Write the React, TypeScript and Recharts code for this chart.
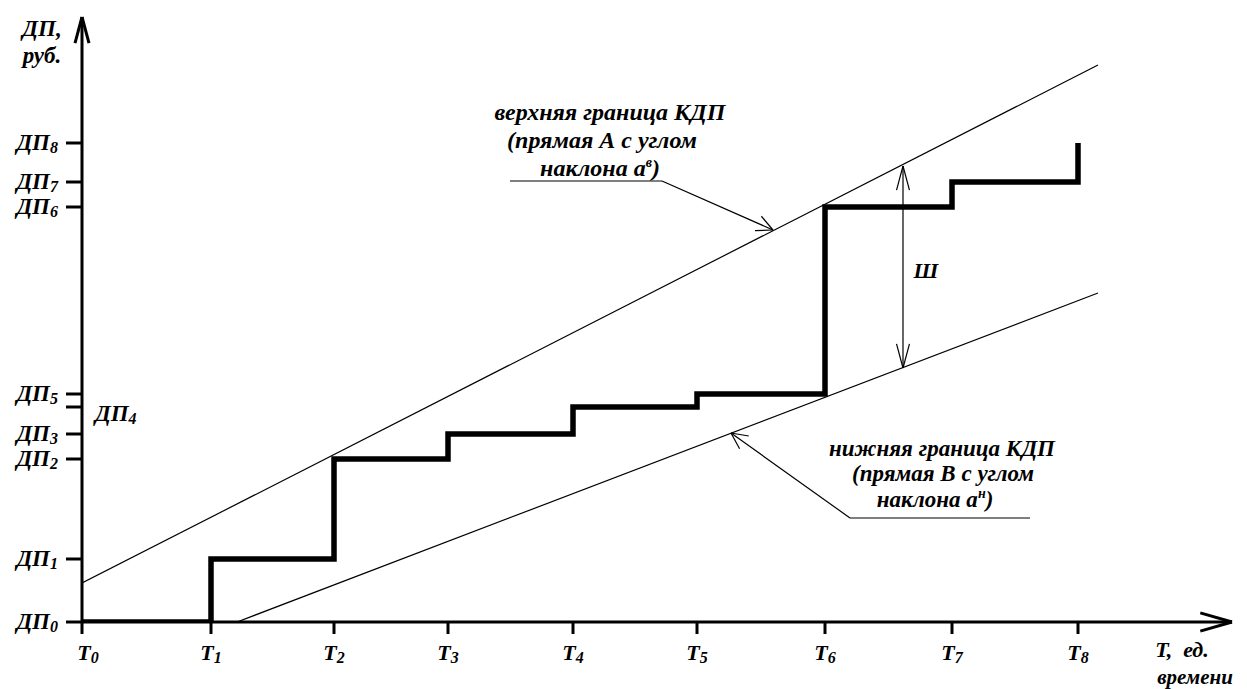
import React from 'react';
import { ComposedChart, Line, XAxis, YAxis, ReferenceLine, ReferenceDot } from 'recharts';

// ---- data (units: time units on X, roubles on Y) ----
const timeSubs = ['0', '1', '2', '3', '4', '5', '6', '7', '8'];
const timeValues = [0, 129, 252, 366, 491, 615, 743, 870, 996];
const dpSubs = ['0', '1', '2', '3', '4', '5', '6', '7', '8'];
const dpValues = [0, 63, 163, 188, 215, 228, 415, 440, 479];
const upperBound = [{ t: 0, v: 39 }, { t: 1016, v: 557 }];
const lowerBound = [{ t: 155, v: 0 }, { t: 1016, v: 329 }];
const stepData = timeValues.map((t, i) => ({ t, dp: dpValues[i] }));

const X_MAX = 1150;
const Y_MAX = 605;

const upperNote = ['верхняя граница КДП', '(прямая А с углом', 'наклона а'];
const upperNoteSup = 'в';
const upperNotePos = [{ x: 528, y: 510 }, { x: 520, y: 482 }, { x: 518, y: 454 }];
const lowerNote = ['нижняя граница КДП', '(прямая В с углом', 'наклона а'];
const lowerNoteSup = 'н';
const lowerNotePos = [{ x: 860, y: 174 }, { x: 861, y: 149 }, { x: 853, y: 123 }];

// leader lines
const upperLeader = [{ x: 428, y: 441 }, { x: 580, y: 441 }, { x: 691, y: 392 }];
const lowerLeader = [{ x: 948, y: 104 }, { x: 768, y: 104 }, { x: 649, y: 189 }];
const widthArrow = [{ x: 821, y: 254 }, { x: 821, y: 456 }];

const FONT = '"Liberation Serif", "Times New Roman", serif';

type P = { x: number; y: number };
function arrowArms(tip: P, from: P, len: number, deg: number): [P, P][] {
  const dx = from.x - tip.x;
  const dy = from.y - tip.y;
  const l = Math.hypot(dx, dy);
  const ux = dx / l;
  const uy = dy / l;
  const a = (deg * Math.PI) / 180;
  const c = Math.cos(a);
  const s = Math.sin(a);
  const r1 = { x: tip.x + len * (ux * c - uy * s), y: tip.y + len * (ux * s + uy * c) };
  const r2 = { x: tip.x + len * (ux * c + uy * s), y: tip.y + len * (-ux * s + uy * c) };
  return [[tip, r1], [tip, r2]];
}

const textStyle = {
  fontFamily: FONT,
  fontWeight: 700,
  fontStyle: 'italic' as const,
  fill: '#000',
};

const XTick = (props: any) => {
  const { x, y, payload } = props;
  const i = timeValues.indexOf(payload.value);
  return (
    <text x={x + (i === 0 ? 6 : 0)} y={y} dy={26} textAnchor="middle" style={textStyle} fontSize={22}>
      T<tspan fontSize={16} dy={3}>{timeSubs[i]}</tspan>
    </text>
  );
};

const YTick = (props: any) => {
  const { x, y, payload } = props;
  const i = dpValues.indexOf(payload.value);
  if (i === 4) {
    return (
      <text x={x + 31} y={y} dy={14} textAnchor="start" style={textStyle} fontSize={23}>
        ДП<tspan fontSize={16} dy={3}>{dpSubs[i]}</tspan>
      </text>
    );
  }
  return (
    <text x={x - 6} y={y} dy={7} textAnchor="end" style={textStyle} fontSize={23}>
      ДП<tspan fontSize={16} dy={3}>{dpSubs[i]}</tspan>
    </text>
  );
};

const makeText = (content: React.ReactNode, size: number, anchor: string = 'middle') => (p: any) => (
  <text x={p.cx} y={p.cy} dy="0.35em" textAnchor={anchor} style={textStyle} fontSize={size}>
    {content}
  </text>
);

const seg = (a: P, b: P, key: string, w = 1.2) => (
  <ReferenceLine
    key={key}
    segment={[{ x: a.x, y: a.y }, { x: b.x, y: b.y }]}
    stroke="#000"
    strokeWidth={w}
    ifOverflow="visible"
  />
);

export default function App() {
  const yArrow = arrowArms({ x: 0, y: Y_MAX }, { x: 0, y: 0 }, 27, 15);
  const xArrow = arrowArms({ x: X_MAX, y: 0 }, { x: 0, y: 0 }, 33, 16);
  const upArms = arrowArms(upperLeader[2], upperLeader[1], 18, 26);
  const lowArms = arrowArms(lowerLeader[2], lowerLeader[1], 18, 26);
  const wTop = arrowArms(widthArrow[1], widthArrow[0], 25, 15);
  const wBot = arrowArms(widthArrow[0], widthArrow[1], 25, 15);

  const noteLine = (lines: string[], sup: string, pos: P[], prefix: string, size: number) =>
    lines.map((ln, i) => (
      <ReferenceDot
        key={prefix + i}
        x={pos[i].x}
        y={pos[i].y}
        r={0}
        ifOverflow="visible"
        shape={makeText(
          i === 2 ? (
            <>
              {ln}
              <tspan fontSize={14} dy={-9}>{sup}</tspan>
              <tspan dy={9}>)</tspan>
            </>
          ) : (
            ln
          ),
          size
        )}
      />
    ));

  return (
    <div style={{ position: 'absolute', left: 0, top: 0, background: '#fff' }}>
      <ComposedChart width={1247} height={689} margin={{ top: 17, right: 15, left: 0, bottom: 0 }}>
        <XAxis
          type="number"
          dataKey="t"
          domain={[0, X_MAX]}
          ticks={timeValues}
          allowDataOverflow
          height={67}
          tickSize={12}
          tickMargin={0}
          axisLine={{ stroke: '#000', strokeWidth: 3 }}
          tickLine={{ stroke: '#000', strokeWidth: 3 }}
          tick={<XTick />}
          interval={0}
        />
        <YAxis
          type="number"
          domain={[0, Y_MAX]}
          ticks={dpValues}
          allowDataOverflow
          width={82}
          tickSize={16}
          tickMargin={2}
          axisLine={{ stroke: '#000', strokeWidth: 3 }}
          tickLine={{ stroke: '#000', strokeWidth: 3 }}
          tick={<YTick />}
          interval={0}
        />
        <Line
          data={upperBound}
          dataKey="v"
          type="linear"
          stroke="#000"
          strokeWidth={1.2}
          dot={false}
          activeDot={false}
          isAnimationActive={false}
        />
        <Line
          data={lowerBound}
          dataKey="v"
          type="linear"
          stroke="#000"
          strokeWidth={1.2}
          dot={false}
          activeDot={false}
          isAnimationActive={false}
        />
        <Line
          data={stepData}
          dataKey="dp"
          type="stepAfter"
          stroke="#000"
          strokeWidth={5.5}
          strokeLinejoin="miter"
          dot={false}
          activeDot={false}
          isAnimationActive={false}
        />
        {yArrow.map((s, i) => seg(s[0], s[1], 'ya' + i, 3))}
        {xArrow.map((s, i) => seg(s[0], s[1], 'xa' + i, 3))}
        {seg(upperLeader[0], upperLeader[1], 'ul0')}
        {seg(upperLeader[1], upperLeader[2], 'ul1')}
        {upArms.map((s, i) => seg(s[0], s[1], 'ua' + i))}
        {seg(lowerLeader[0], lowerLeader[1], 'll0')}
        {seg(lowerLeader[1], lowerLeader[2], 'll1')}
        {lowArms.map((s, i) => seg(s[0], s[1], 'la' + i))}
        {seg(widthArrow[0], widthArrow[1], 'w0')}
        {wTop.map((s, i) => seg(s[0], s[1], 'wt' + i))}
        {wBot.map((s, i) => seg(s[0], s[1], 'wb' + i))}
        {noteLine(upperNote, upperNoteSup, upperNotePos, 'un', 24)}
        {noteLine(lowerNote, lowerNoteSup, lowerNotePos, 'ln', 23)}
        <ReferenceDot x={844} y={352} r={0} ifOverflow="visible" shape={makeText('Ш', 22)} />
        <ReferenceDot x={-40} y={594} r={0} ifOverflow="visible" shape={makeText('ДП,', 23)} />
        <ReferenceDot x={-40} y={567} r={0} ifOverflow="visible" shape={makeText('руб.', 23)} />
        <ReferenceDot x={1100} y={-27} r={0} ifOverflow="visible" shape={makeText('T,\u00A0\u00A0ед.', 22)} />
        <ReferenceDot x={1113} y={-55} r={0} ifOverflow="visible" shape={makeText('времени', 21)} />
      </ComposedChart>
    </div>
  );
}
